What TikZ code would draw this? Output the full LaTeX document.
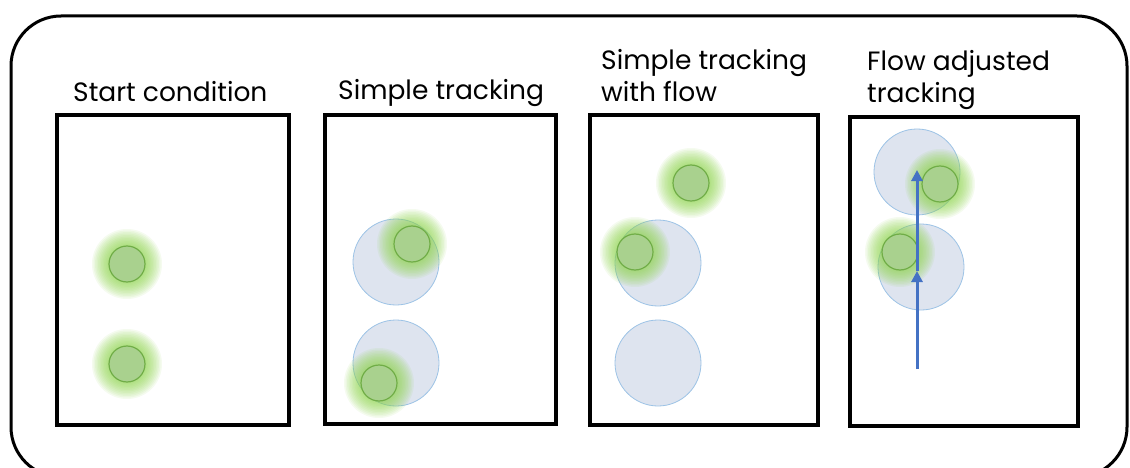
\documentclass[tikz,border=0pt]{standalone}
\usepackage{fontspec}
\setmainfont{Poppins}
\usetikzlibrary{arrows.meta}
\definecolor{glowc}{RGB}{140,214,70}
\definecolor{dotfill}{RGB}{169,209,142}
\definecolor{dotline}{RGB}{112,173,71}
\definecolor{zonefill}{RGB}{222,228,239}
\definecolor{zoneline}{RGB}{157,195,230}
\definecolor{flowc}{RGB}{68,114,196}
\tikzset{
  frame/.style={draw=black, line width=4.5pt},
  outerframe/.style={draw=black, line width=3pt, rounded corners=50pt},
  title/.style={anchor=base west, inner sep=0pt, font=\fontsize{26.5}{31}\selectfont},
  dot/.style={circle, draw=dotline, line width=1.2pt, fill=dotfill, minimum size=36pt, inner sep=0pt},
  zone/.style={circle, draw=zoneline, line width=0.8pt, fill=zonefill, minimum size=86pt, inner sep=0pt},
  flow/.style={draw=flowc, line width=3pt, -{Triangle[width=11pt,length=11pt]}},
}
\newcommand\glowat[1]{\foreach \rr in {35,33.5,...,19}{\fill[glowc, opacity=0.085] (#1) circle[radius=\rr pt];}}
\begin{document}
\begin{tikzpicture}[x=1pt,y=-1pt]
\useasboundingbox (0,0) rectangle (1130,468);
\fill[white] (0,0) rectangle (1130,468);
\draw[outerframe] (11,16) rectangle (1127,477);

% panel frames
\draw[frame] (57,115) rectangle (289,425);
\draw[frame] (325,115) rectangle (556,424);
\draw[frame] (590,115) rectangle (818,425);
\draw[frame] (850,117) rectangle (1078,426);

% titles
\node[title] (t1) at (73,102) {Start condition};
\node[title] (t2) at (338,100) {Simple tracking};
\node[title] (t3a) at (601,70) {Simple tracking};
\node[title] (t3b) at (601,102) {with flow};
\node[title] (t4a) at (867,71) {Flow adjusted};
\node[title] (t4b) at (867,103) {tracking};

% panel 1
\glowat{127,264}
\glowat{127,364}
\node[dot] (a1) at (127,264) {};
\node[dot] (a2) at (127,364) {};

% panel 2
\node[zone] (bz1) at (396,262) {};
\node[zone] (bz2) at (396,363) {};
\glowat{412,244}
\glowat{379,383}
\node[dot] (b1) at (412,244) {};
\node[dot] (b2) at (379,383) {};

% panel 3
\node[zone] (cz1) at (658,263) {};
\node[zone] (cz2) at (658,363) {};
\glowat{691,183}
\glowat{635,252}
\node[dot] (c1) at (691,183) {};
\node[dot] (c2) at (635,252) {};

% panel 4
\node[zone] (dz1) at (917,172) {};
\node[zone] (dz2) at (921,267) {};
\glowat{940,184}
\glowat{900,252}
\node[dot] (d1) at (940,184) {};
\node[dot] (d2) at (900,252) {};
\coordinate (f0) at (917,369);
\coordinate (f1) at (917,271);
\coordinate (f2) at (917,170);
\draw[flow] (f0) -- (f1);
\draw[flow] (f1) -- (f2);
\end{tikzpicture}
\end{document}
